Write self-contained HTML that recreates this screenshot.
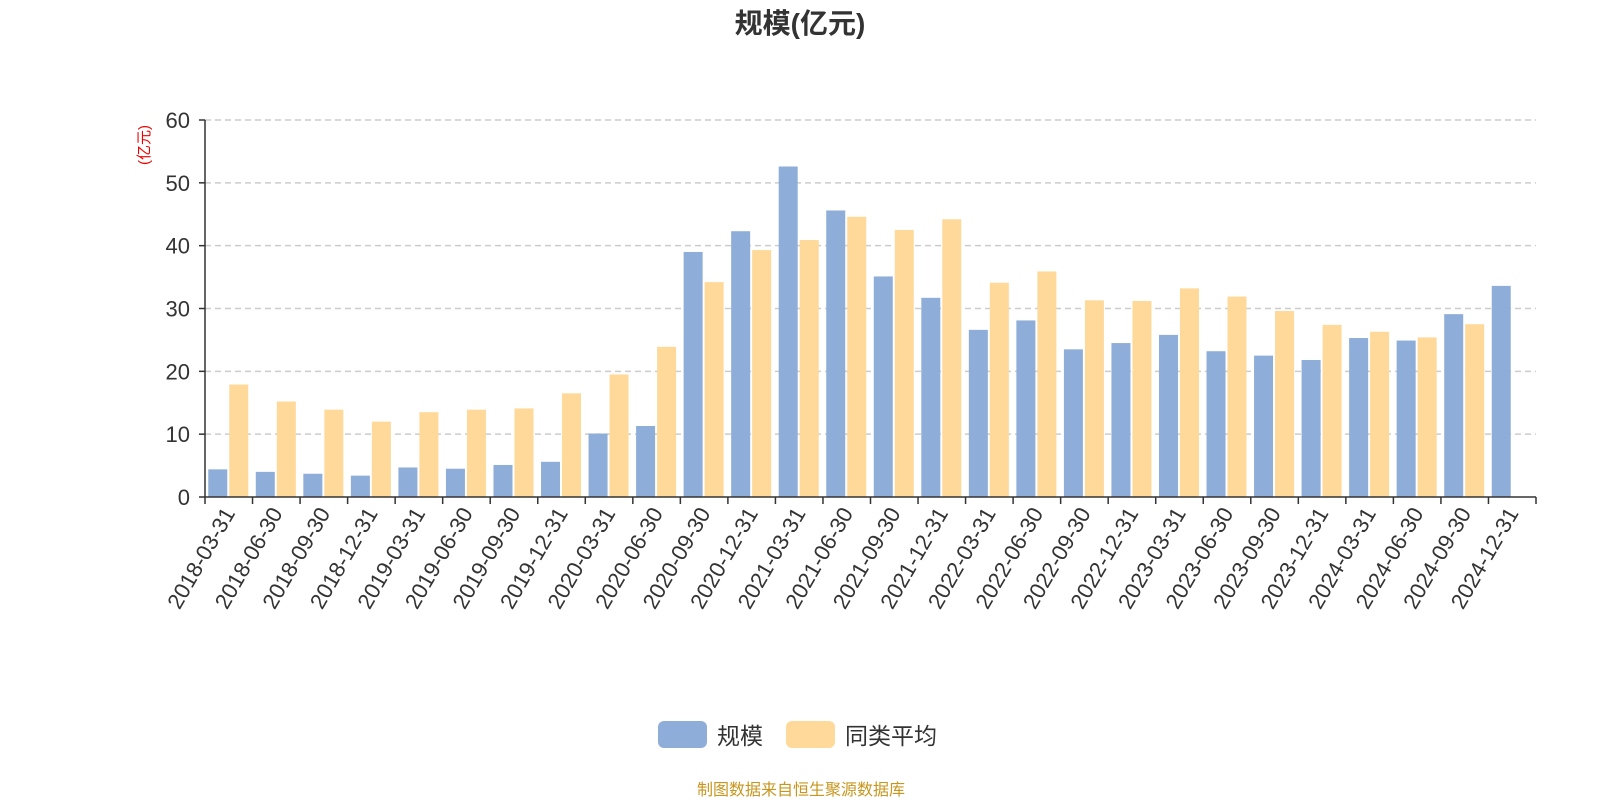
<!DOCTYPE html>
<html><head><meta charset="utf-8">
<style>
body{margin:0;background:#fff;font-family:"Liberation Sans","Noto Sans CJK SC",sans-serif;}
</style></head>
<body>
<svg id="chart" width="1600" height="800" xmlns="http://www.w3.org/2000/svg" font-family="Liberation Sans, Noto Sans CJK SC, sans-serif">
<text x="800" y="33" text-anchor="middle" font-size="28" font-weight="bold" fill="#333">规模(亿元)</text>
<text transform="translate(149,145) rotate(-90)" text-anchor="middle" font-size="15" fill="#e00">(亿元)</text>
<g id="grid"></g><g id="bars"></g><g id="axes"></g>
<g>
<rect x="658" y="721" width="49" height="27" rx="6" fill="#8eadd9"/>
<text x="717" y="744" font-size="23" fill="#333">规模</text>
<rect x="786" y="721" width="49" height="27" rx="6" fill="#ffd999"/>
<text x="845" y="744" font-size="23" fill="#333">同类平均</text>
</g>
<text x="801" y="795" text-anchor="middle" font-size="16" fill="#c8961e">制图数据来自恒生聚源数据库</text>
</svg>
<script>
const categories=["2018-03-31","2018-06-30","2018-09-30","2018-12-31","2019-03-31","2019-06-30","2019-09-30","2019-12-31","2020-03-31","2020-06-30","2020-09-30","2020-12-31","2021-03-31","2021-06-30","2021-09-30","2021-12-31","2022-03-31","2022-06-30","2022-09-30","2022-12-31","2023-03-31","2023-06-30","2023-09-30","2023-12-31","2024-03-31","2024-06-30","2024-09-30","2024-12-31"];
const scaleValues=[4.4,4.0,3.7,3.4,4.7,4.5,5.1,5.6,10.1,11.3,39.0,42.3,52.6,45.6,35.1,31.7,26.6,28.1,23.5,24.5,25.8,23.2,22.5,21.8,25.3,24.9,29.1,33.6];
const avgValues=[17.9,15.2,13.9,12.0,13.5,13.9,14.1,16.5,19.5,23.9,34.2,39.3,40.9,44.6,42.5,44.2,34.1,35.9,31.3,31.2,33.2,31.9,29.6,27.4,26.3,25.4,27.5,null];
const yTicks=[0,10,20,30,40,50,60];
const NS="http://www.w3.org/2000/svg";
const x0=205,x1=1536,yb=497,yt=120,ymax=60;
const bw=(x1-x0)/categories.length;
const y=v=>yb-(v/ymax)*(yb-yt);
const xc=i=>x0+bw*(i+0.5);
function mk(t,a,p){const e=document.createElementNS(NS,t);for(const k in a)e.setAttribute(k,a[k]);p.appendChild(e);return e;}
const grid=document.getElementById('grid'),bars=document.getElementById('bars'),axes=document.getElementById('axes');
yTicks.forEach(v=>{
 if(v>0){const l=mk('line',{x1:x0,x2:x1,y1:y(v),y2:y(v),stroke:'#ccc','stroke-dasharray':'6,4','stroke-width':1.5},grid);
 
 }
 const t=mk('text',{x:x0-15,y:y(v)+8,'text-anchor':'end','font-size':22,fill:'#333'},axes);t.textContent=v;
 
 
 const tk=mk('line',{x1:x0-6,x2:x0,y1:y(v),y2:y(v),stroke:'#333','stroke-width':1.5},axes);
 
 
});
categories.forEach((c,i)=>{
 const cx=xc(i);
 if(scaleValues[i]!=null){const r=mk('rect',{x:cx-20.5,y:y(scaleValues[i]),width:19,height:yb-y(scaleValues[i]),fill:'#8eadd9'},bars);
 
 }
 if(avgValues[i]!=null){const r=mk('rect',{x:cx+0.5,y:y(avgValues[i]),width:19,height:yb-y(avgValues[i]),fill:'#ffd999'},bars);
 
 }
 const tk=mk('line',{x1:x0+bw*i,x2:x0+bw*i,y1:yb,y2:yb+7,stroke:'#333','stroke-width':1.5},axes);
 
 
 const t=mk('text',{transform:`translate(${cx+7},${yb+16}) rotate(-60)`,'text-anchor':'end','font-size':22,fill:'#333'},axes);t.textContent=c;
 
 
});
const lt=mk('line',{x1:x1,x2:x1,y1:yb,y2:yb+7,stroke:'#333','stroke-width':1.5},axes);


const ya=mk('line',{x1:x0,x2:x0,y1:yt,y2:yb,stroke:'#333','stroke-width':1.5},axes);


const xa=mk('line',{x1:x0,x2:x1,y1:yb,y2:yb,stroke:'#333','stroke-width':1.5},axes);


</script>
</body></html>
